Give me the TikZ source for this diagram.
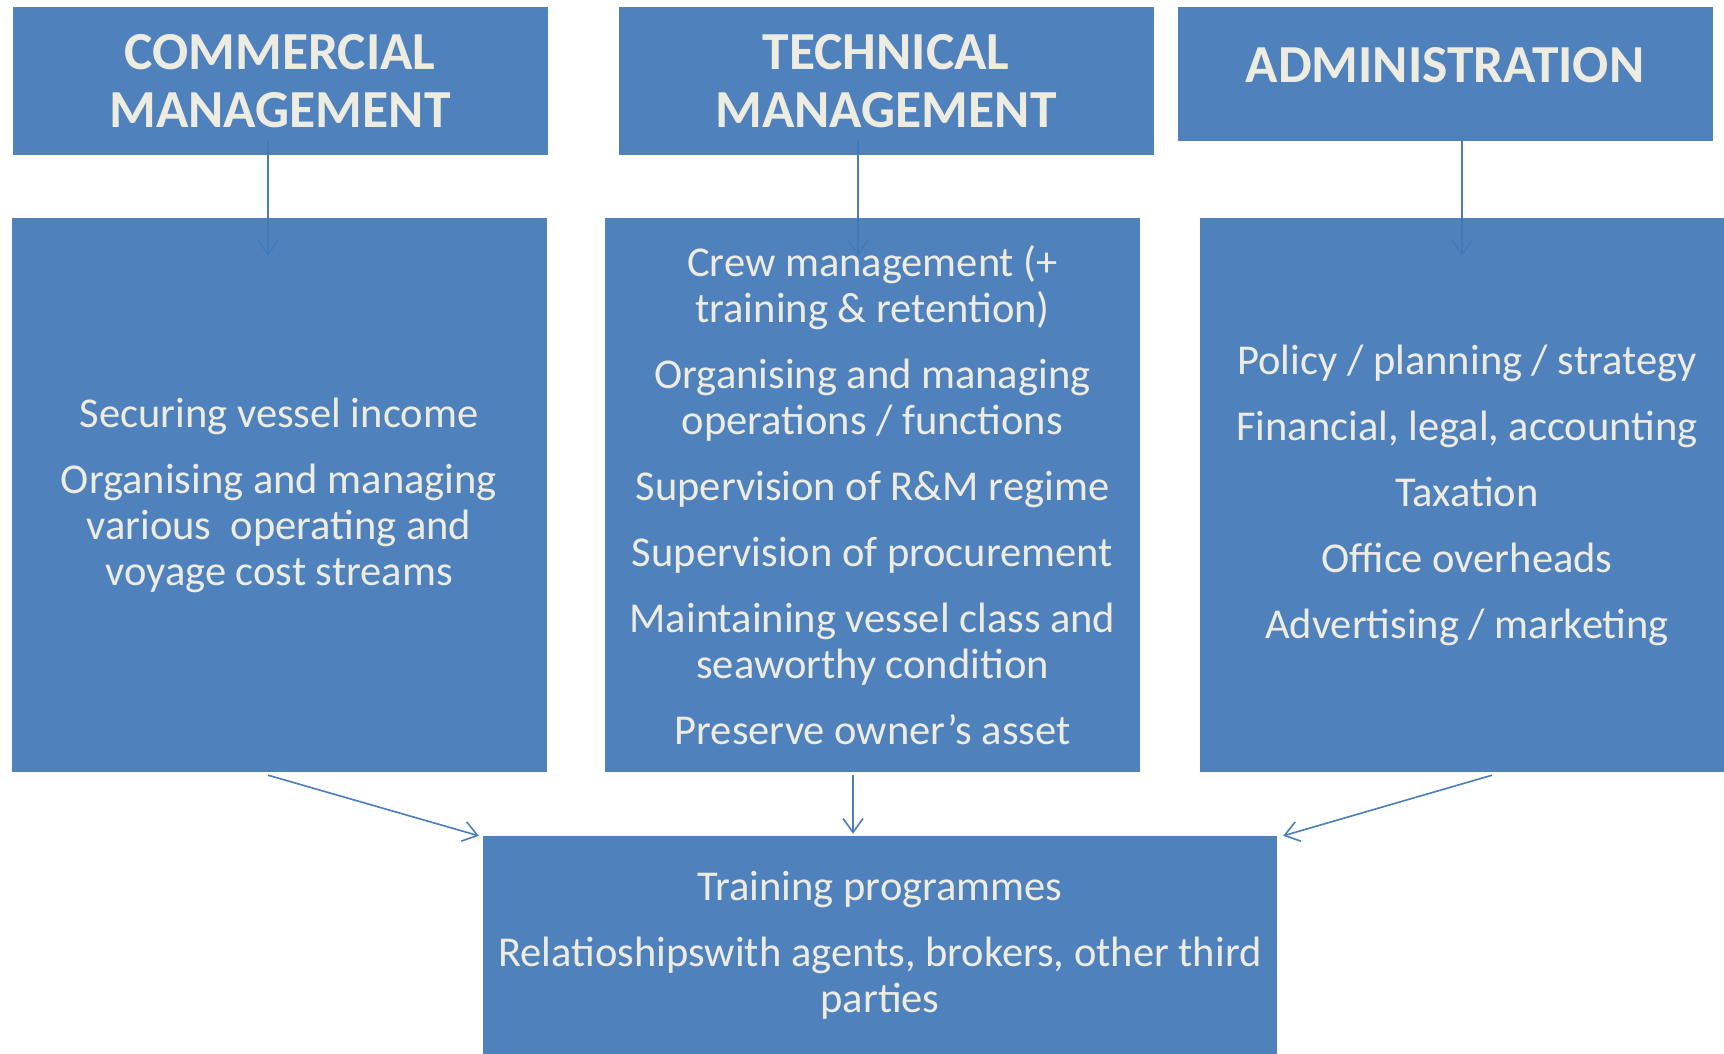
\documentclass[tikz,border=0pt]{standalone}
\usepackage{fontspec}
\setmainfont{Carlito}
\usetikzlibrary{arrows.meta,backgrounds}
\definecolor{boxblue}{HTML}{4279B8}
\definecolor{boxtext}{HTML}{EEECE1}
\definecolor{linkblue}{HTML}{4A7EBB}
\tikzset{
  head/.style={fill=boxblue,fill opacity=.93,text opacity=1,text=boxtext,align=center,
    inner sep=0pt,minimum width=535pt,font=\bfseries\fontsize{53.5}{58}\selectfont},
  body/.style={fill=boxblue,fill opacity=.93,text opacity=1,text=boxtext,align=center,
    inner sep=0pt,minimum width=535pt,minimum height=554pt,font=\fontsize{42.5}{46}\selectfont},
  link/.style={draw=linkblue,line width=1.6pt,-{Straight Barb[length=14pt,width=20pt]}}
}
\begin{document}
\begin{tikzpicture}[x=1pt,y=-1pt]
\useasboundingbox (0,0) rectangle (1724,1054);
\node[head,minimum height=148pt] (cm) at (280,81) {COMMERCIAL\\MANAGEMENT};
\node[head,minimum height=148pt] (tm) at (886,81) {TECHNICAL\\MANAGEMENT};
\node[head,minimum height=134pt,text depth=18pt] (ad) at (1445,74) {ADMINISTRATION};
\node[body] (cb) at (279,495) {Securing vessel income\\[20pt]
  Organising and managing\\various\ \ operating and\\voyage cost streams};
\node[body] (tb) at (872.5,495) {Crew management (+\\training \& retention)\\[20pt]
  Organising and managing\\operations / functions\\[20pt]
  Supervision of R\&M regime\\[20pt]
  Supervision of procurement\\[20pt]
  Maintaining vessel class and\\seaworthy condition\\[20pt]
  Preserve owner’s asset};
\node[body] (ab) at (1467,495) {Policy / planning / strategy\\[20pt]
  Financial, legal, accounting\\[20pt]
  Taxation\\[20pt]
  Office overheads\\[20pt]
  Advertising / marketing};
\node[body,minimum width=794pt,minimum height=218pt] (bt) at (880,945) {Training programmes\\[20pt]
  Relatioshipswith agents, brokers, other third\\parties};
\begin{scope}[on background layer]
\draw[link] ([xshift=-12pt,yshift=14pt]cm.south) -- ([xshift=-11pt,yshift=-38pt]cb.north);
\draw[link] ([xshift=-28pt,yshift=14pt]tm.south) -- ([xshift=-14.5pt,yshift=-38pt]tb.north);
\draw[link] ([xshift=17pt]ad.south) -- ([xshift=-5pt,yshift=-38pt]ab.north);
\end{scope}
\draw[link] ([xshift=-11pt,yshift=-3pt]cb.south) -- ([xshift=-4pt]bt.north west);
\draw[link] ([xshift=-19.5pt,yshift=-3pt]tb.south) -- ([xshift=-27pt,yshift=2pt]bt.north);
\draw[link] ([xshift=25pt,yshift=-3pt]ab.south) -- ([xshift=6pt]bt.north east);
\end{tikzpicture}
\end{document}
